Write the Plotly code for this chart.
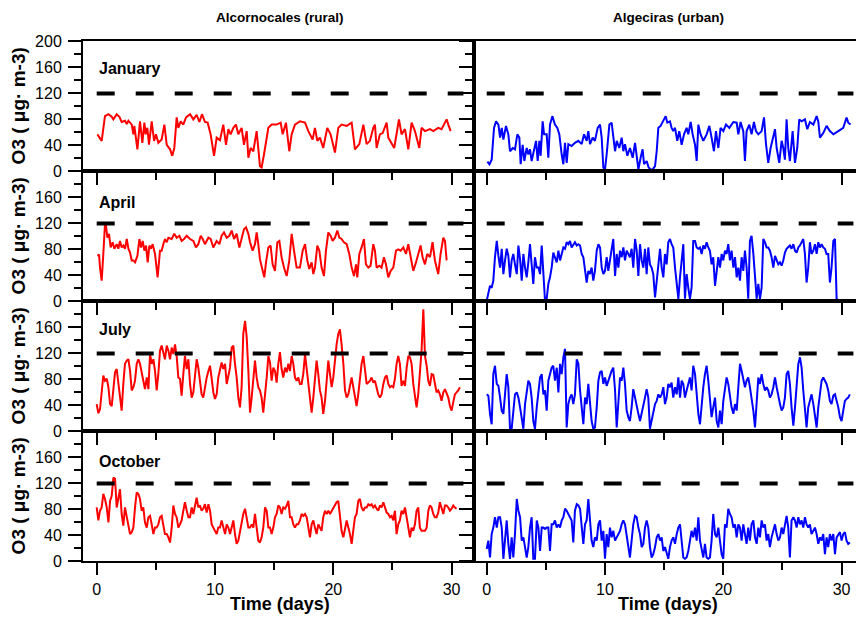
import plotly.graph_objects as go

# ---------------- data (O3, ug m-3) ----------------
LIMIT = 120
LIMIT_SPAN = [0, 31]

# regular sampling grid (days) used by the densely read series
SAMPLE_DAYS = [0.00,0.14,0.28,0.42,0.56,0.70,0.85,0.99,1.13,1.27,
1.41,1.55,1.69,1.83,1.97,2.11,2.25,2.39,2.54,2.68,
2.82,2.96,3.10,3.24,3.38,3.52,3.66,3.80,3.94,4.08,
4.23,4.37,4.51,4.65,4.79,4.93,5.07,5.21,5.35,5.49,
5.63,5.77,5.92,6.06,6.20,6.34,6.48,6.62,6.76,6.90,
7.04,7.18,7.32,7.46,7.61,7.75,7.89,8.03,8.17,8.31,
8.45,8.59,8.73,8.87,9.01,9.15,9.30,9.44,9.58,9.72,
9.86,10.00,10.14,10.28,10.42,10.56,10.70,10.85,10.99,11.13,
11.27,11.41,11.55,11.69,11.83,11.97,12.11,12.25,12.39,12.54,
12.68,12.82,12.96,13.10,13.24,13.38,13.52,13.66,13.80,13.94,
14.08,14.23,14.37,14.51,14.65,14.79,14.93,15.07,15.21,15.35,
15.49,15.63,15.77,15.92,16.06,16.20,16.34,16.48,16.62,16.76,
16.90,17.04,17.18,17.32,17.46,17.61,17.75,17.89,18.03,18.17,
18.31,18.45,18.59,18.73,18.87,19.01,19.15,19.30,19.44,19.58,
19.72,19.86,20.00,20.14,20.28,20.42,20.56,20.70,20.85,20.99,
21.13,21.27,21.41,21.55,21.69,21.83,21.97,22.11,22.25,22.39,
22.54,22.68,22.82,22.96,23.10,23.24,23.38,23.52,23.66,23.80,
23.94,24.08,24.23,24.37,24.51,24.65,24.79,24.93,25.07,25.21,
25.35,25.49,25.63,25.77,25.92,26.06,26.20,26.34,26.48,26.62,
26.76,26.90,27.04,27.18,27.32,27.46,27.61,27.75,27.89,28.03,
28.17,28.31,28.45,28.59,28.73,28.87,29.01,29.15,29.30,29.44,
29.58,29.72,29.86,30.00,30.14,30.28,30.42,30.56,30.70,30.85]

JAN_RURAL_DAYS = [0.06,0.42,0.70,0.99,1.27,1.41,1.69,1.92,2.11,2.39,
2.54,2.68,2.96,3.10,3.18,3.44,3.66,3.86,4.03,4.14,
4.28,4.42,4.65,4.85,5.01,5.21,5.49,5.72,5.92,6.20,
6.39,6.56,6.76,6.90,7.10,7.32,7.55,7.89,8.17,8.45,
8.68,8.90,9.15,9.38,9.63,9.92,10.14,10.42,10.70,10.93,
11.13,11.32,11.55,11.77,11.97,12.25,12.45,12.68,12.82,13.01,
13.24,13.52,13.80,13.94,14.14,14.25,14.51,14.79,15.21,15.55,
15.72,16.00,16.28,16.48,16.76,17.18,17.61,17.89,18.25,18.45,
18.65,18.87,19.15,19.49,19.77,20.14,20.42,20.70,21.13,21.55,
21.69,21.83,22.20,22.54,22.82,23.10,23.38,23.52,23.66,23.94,
24.17,24.51,24.65,24.93,25.15,25.55,25.77,26.06,26.34,26.62,
26.90,27.27,27.46,27.75,28.17,28.45,28.87,29.15,29.58,29.72,
29.92]
JAN_RURAL_O3 = [57,47,85,88,84,80,88,84,76,78,
73,78,72,57,70,34,77,44,75,57,
67,41,77,47,57,44,49,72,41,34,
24,36,83,67,77,72,83,88,80,87,
76,88,76,75,57,24,52,48,72,41,
65,57,67,72,57,67,41,62,21,36,
31,62,8,6,26,39,67,72,72,75,
57,75,31,57,72,77,75,62,49,67,
47,52,36,67,57,29,67,72,70,75,
57,34,42,72,42,47,67,72,36,57,
59,75,52,42,36,80,57,65,34,75,
62,36,67,62,65,62,67,65,80,72,
62]

JAN_URBAN_DAYS = [0.06,0.23,0.42,0.62,0.79,0.99,1.13,1.27,1.41,1.63,
1.83,1.97,2.20,2.39,2.59,2.76,2.87,3.04,3.18,3.38,
3.52,3.66,3.80,4.00,4.17,4.31,4.45,4.56,4.73,4.85,
5.07,5.21,5.35,5.55,5.77,5.97,6.14,6.34,6.48,6.62,
6.76,6.90,7.18,7.46,7.75,8.03,8.23,8.45,8.59,8.73,
8.96,9.15,9.38,9.58,9.72,9.86,10.00,10.14,10.37,10.56,
10.70,10.85,10.99,11.21,11.41,11.55,11.69,11.89,12.11,12.34,
12.54,12.68,12.82,13.01,13.18,13.30,13.52,13.69,13.86,14.03,
14.23,14.37,14.51,14.70,14.93,15.13,15.27,15.49,15.63,15.77,
15.92,16.11,16.28,16.48,16.68,16.90,17.04,17.24,17.41,17.61,
17.75,17.89,18.08,18.31,18.59,18.82,19.01,19.21,19.38,19.58,
19.77,20.00,20.23,20.51,20.85,21.13,21.27,21.46,21.69,21.83,
21.97,22.20,22.39,22.59,22.76,22.96,23.24,23.44,23.61,23.80,
24.00,24.23,24.37,24.51,24.73,24.93,25.07,25.21,25.35,25.49,
25.63,25.86,26.06,26.25,26.42,26.62,26.90,27.10,27.32,27.61,
27.89,28.03,28.17,28.45,28.73,29.01,29.30,29.72,30.14,30.42,
30.56,30.76]
JAN_URBAN_O3 = [15,11,18,67,77,72,52,67,49,70,
57,31,36,34,57,52,11,41,16,36,
26,34,16,36,47,16,47,24,77,57,
57,21,72,85,72,67,57,26,11,44,
13,42,39,44,47,42,57,47,62,42,
52,47,67,72,52,6,3,26,72,75,
57,31,47,36,52,31,42,24,36,21,
44,21,3,21,34,11,16,6,3,3,
8,31,67,70,77,85,75,77,67,62,
67,47,62,41,57,67,57,76,57,41,
16,72,57,47,57,70,52,31,62,36,
67,62,72,67,76,75,57,76,62,16,
62,72,57,76,62,57,62,83,42,13,
36,57,65,36,13,47,36,18,80,36,
16,62,13,36,80,77,80,65,76,72,
85,77,52,59,70,62,57,62,67,83,
75,72]

APR_RURAL_DAYS = [0.06,0.20,0.28,0.42,0.56,0.70,0.79,0.90,1.04,1.18,
1.35,1.49,1.69,1.83,1.97,2.11,2.25,2.39,2.54,2.68,
2.82,2.96,3.10,3.24,3.44,3.61,3.75,3.89,4.03,4.17,
4.31,4.45,4.59,4.73,4.93,5.15,5.35,5.49,5.63,5.77,
5.92,6.06,6.34,6.56,6.76,6.99,7.18,7.38,7.61,7.89,
8.17,8.39,8.59,8.79,8.96,9.15,9.44,9.63,9.86,10.14,
10.37,10.56,10.76,10.99,11.21,11.41,11.61,11.83,12.06,12.25,
12.45,12.62,12.82,12.96,13.18,13.38,13.52,13.66,13.80,14.03,
14.17,14.31,14.51,14.70,14.87,15.07,15.27,15.44,15.63,15.83,
16.06,16.28,16.48,16.68,16.90,17.18,17.41,17.61,17.80,17.97,
18.17,18.31,18.45,18.65,18.82,19.01,19.21,19.38,19.58,19.77,
19.94,20.14,20.34,20.51,20.70,20.90,21.13,21.35,21.55,21.75,
21.92,22.03,22.20,22.39,22.59,22.76,22.96,23.15,23.38,23.52,
23.66,23.89,24.08,24.28,24.45,24.65,24.85,25.07,25.30,25.49,
25.69,25.92,26.14,26.34,26.54,26.76,26.99,27.18,27.38,27.55,
27.75,27.94,28.17,28.39,28.59,28.87,29.07,29.30,29.44,29.58]
APR_RURAL_O3 = [70,72,52,32,73,119,116,98,104,83,
91,81,88,81,93,83,86,81,96,81,
75,63,63,60,70,96,83,93,78,86,
60,86,81,88,73,37,78,78,88,96,
91,98,96,104,98,101,93,96,101,96,
93,83,88,101,96,88,98,96,83,93,
88,101,106,98,101,109,96,104,83,96,
111,114,104,91,78,88,106,88,65,47,
37,60,83,86,57,47,91,93,68,52,
39,63,104,78,52,52,78,88,63,50,
60,42,52,86,78,52,39,78,106,101,
93,98,109,98,96,91,88,73,52,39,
57,37,73,83,96,57,52,55,88,78,
52,55,52,68,57,37,47,52,78,80,
78,83,73,88,70,47,60,73,86,68,
57,73,68,91,63,42,73,98,93,63]

APR_URBAN_O3 = [1,14,24,21,32,68,93,70,52,81,
42,63,81,70,37,63,73,57,42,86,
65,32,73,52,37,60,88,57,27,68,
52,52,42,86,40,1,4,27,37,52,
75,68,60,78,63,73,83,81,91,88,
93,83,88,91,86,88,86,73,68,52,
29,47,42,52,32,47,78,88,83,52,
42,47,68,47,63,78,96,39,73,52,
78,68,83,63,78,73,68,81,52,96,
78,39,88,63,52,81,42,83,57,52,
42,6,29,57,81,52,37,73,57,91,
96,88,83,52,27,4,37,63,88,4,
42,21,4,21,93,93,83,81,83,73,
86,81,91,83,78,57,68,24,52,68,
52,73,63,78,73,88,63,78,52,68,
37,52,32,68,47,78,52,4,93,101,
73,32,4,27,4,21,96,91,83,83,
78,68,52,70,63,57,60,55,63,75,
81,83,86,81,88,78,75,83,86,91,
96,73,29,52,91,73,78,88,73,91,
83,88,83,81,73,73,29,52,93,96,
4,1]

JUL_RURAL_O3 = [42,28,34,63,86,78,81,68,42,39,
63,91,96,73,57,32,73,104,109,111,
93,63,68,78,104,111,104,88,78,65,
83,65,119,104,111,93,63,88,124,132,
122,111,132,124,111,129,119,134,116,83,
81,55,88,116,96,111,73,52,60,88,
111,98,78,57,52,68,83,93,101,81,
60,50,57,83,93,106,96,104,73,86,
98,129,132,104,83,52,37,68,150,170,
145,93,29,52,83,109,83,68,63,52,
29,52,83,116,106,78,98,93,75,104,
122,96,83,98,91,104,93,116,104,83,
78,83,73,73,88,119,98,70,47,29,
52,83,109,88,63,52,27,47,83,109,
88,68,83,116,134,150,157,134,104,63,
52,57,73,83,68,52,39,57,83,104,
116,98,73,75,78,83,75,78,68,57,
52,57,73,83,86,73,68,70,68,81,
104,116,104,70,78,70,98,116,114,104,
73,52,37,57,93,124,188,116,101,78,
70,88,87,70,60,63,57,47,60,65,
57,52,39,32,45,57,60,63,68]

JUL_URBAN_O3 = [57,55,27,11,88,101,73,70,52,32,
27,52,88,68,4,4,37,57,60,52,
37,16,4,42,63,78,73,52,16,4,
37,63,83,88,57,63,32,78,88,98,
101,78,98,60,104,88,114,127,6,42,
52,57,42,57,111,104,63,32,11,52,
42,73,37,16,4,6,37,78,91,93,
73,83,70,78,88,93,98,63,6,42,
83,78,98,73,32,22,16,37,65,52,
37,27,16,27,37,52,65,52,4,16,
32,42,47,57,52,57,68,42,52,73,
68,75,52,68,57,83,52,78,73,52,
63,73,83,63,101,88,52,27,11,42,
68,88,101,78,52,22,37,52,16,6,
32,11,47,63,83,73,52,37,27,42,
32,68,104,93,78,68,78,83,68,52,
32,6,52,83,73,88,73,63,68,63,
52,57,68,83,68,52,42,32,37,52,
88,93,73,37,9,37,68,104,114,98,
63,27,6,37,47,57,42,22,6,37,
57,78,83,78,73,63,47,42,55,57,
47,37,22,16,32,47,50,52,57]

OCT_RURAL_O3 = [83,63,78,83,104,96,83,60,93,101,
129,127,83,98,111,73,55,83,68,57,
42,45,52,83,106,104,96,78,83,60,
52,68,70,57,42,52,52,57,68,70,
57,42,42,37,29,52,86,73,68,52,
57,63,78,91,78,68,68,83,73,88,
98,83,86,78,81,88,75,88,78,57,
52,47,42,52,52,63,52,42,57,52,
42,52,63,42,27,32,47,57,73,81,
68,52,52,57,52,73,52,32,29,37,
52,83,78,52,52,42,52,68,73,86,
83,73,83,81,86,93,68,68,57,52,
57,57,63,73,70,73,68,52,37,57,
63,52,42,57,52,47,68,78,73,78,
73,78,83,86,91,93,73,47,37,52,
63,52,42,27,52,68,73,93,96,83,
78,83,83,88,86,88,83,86,81,78,
86,83,91,83,75,73,68,70,63,78,
42,57,63,78,73,83,68,52,37,52,
47,57,78,83,52,47,47,47,52,78,
86,83,73,68,68,75,91,83,73,86,
86,83,78,81,86,83,81]

OCT_URBAN_O3 = [19,32,6,42,52,68,52,68,68,52,
4,37,63,27,4,37,6,42,96,78,
68,32,37,22,6,22,52,68,4,4,
63,52,16,52,52,50,52,52,16,57,
57,63,52,57,52,63,68,81,78,73,
68,63,29,78,88,86,81,52,27,57,
63,96,57,32,22,37,32,57,63,32,
47,4,42,22,52,37,47,32,37,42,
47,57,63,57,42,22,6,32,57,70,
68,52,42,22,27,52,63,52,22,6,
11,22,37,42,32,37,16,22,11,4,
22,32,37,27,42,52,57,32,6,4,
6,16,32,47,37,52,32,68,32,16,
6,27,6,4,6,32,73,42,37,52,
32,11,4,57,52,81,73,68,52,57,
37,57,52,32,57,42,27,52,32,57,
63,37,27,52,37,63,52,57,32,42,
22,37,47,57,42,32,37,52,42,57,
70,52,6,63,68,63,52,68,57,63,
52,68,57,52,57,42,47,52,42,27,
37,32,42,11,37,22,42,32,42,11,
37,42,45,32,42,45,32,27,29]

MONTHS = ["January", "April", "July", "October"]
SITES = ["Alcornocales (rural)", "Algeciras (urban)"]
SITE_COLORS = ["#ff0000", "#0000ff"]

SERIES = [
    [(JAN_RURAL_DAYS, JAN_RURAL_O3), (JAN_URBAN_DAYS, JAN_URBAN_O3)],
    [(APR_RURAL_DAYS, APR_RURAL_O3), (SAMPLE_DAYS[:len(APR_URBAN_O3)], APR_URBAN_O3)],
    [(SAMPLE_DAYS[:len(JUL_RURAL_O3)], JUL_RURAL_O3), (SAMPLE_DAYS[:len(JUL_URBAN_O3)], JUL_URBAN_O3)],
    [(SAMPLE_DAYS[:len(OCT_RURAL_O3)], OCT_RURAL_O3), (SAMPLE_DAYS[:len(OCT_URBAN_O3)], OCT_URBAN_O3)],
]

Y_TICKS = [0, 40, 80, 120, 160, 200]
Y_MINOR = [20, 60, 100, 140, 180]
X_TICKS = [0, 10, 20, 30]
X_MINOR = [5, 15, 25]

# ---------------- layout geometry ----------------
W, H = 856, 625
# measured placement of the plotting paper inside the rendered picture
PAPER_X0, PAPER_X1 = 0.0, 856.0
PAPER_Y0, PAPER_Y1 = 8.6, 616.6


def fx(px):
    """target screen x pixel -> paper fraction"""
    return min(1.0, max(0.0, (px - PAPER_X0) / (PAPER_X1 - PAPER_X0)))


def fy(py):
    """target screen y pixel -> paper fraction"""
    return min(1.0, max(0.0, 1 - (py - PAPER_Y0) / (PAPER_Y1 - PAPER_Y0)))


PX_PER_DAY = 11.83
COL_PX = [(83, 474), (474, 856)]
ZERO_PX = [96.7, 486.7]
ROW_PX = [(42, 172), (172, 302), (302, 432), (432, 562)]
MONTH_Y = [158, 152, 156, 154]

FONT = "Liberation Sans, Arial, sans-serif"

fig = go.Figure()
layout = dict(
    width=W, height=H,
    margin=dict(l=0, r=0, t=0, b=0),
    paper_bgcolor="white", plot_bgcolor="white",
    showlegend=False,
    font=dict(family=FONT, color="black", size=16),
)
annotations = []

for r in range(4):
    for c in range(2):
        idx = r * 2 + c + 1
        xs = "" if idx == 1 else str(idx)
        x0d, x1d = fx(COL_PX[c][0]), fx(COL_PX[c][1])
        left_px = PAPER_X0 + x0d * (PAPER_X1 - PAPER_X0)
        right_px = PAPER_X0 + x1d * (PAPER_X1 - PAPER_X0)
        xr = [(left_px - ZERO_PX[c]) / PX_PER_DAY, (right_px - ZERO_PX[c]) / PX_PER_DAY]
        yd = [fy(ROW_PX[r][1]), fy(ROW_PX[r][0])]
        layout["xaxis" + xs] = dict(
            domain=[x0d, x1d], range=xr, anchor="y" + xs,
            showline=True, linecolor="black", linewidth=2, mirror=True,
            ticks="outside", ticklen=12, tickwidth=2, tickcolor="black",
            tickmode="array", tickvals=X_TICKS,
            showticklabels=(r == 3), ticklabelstandoff=0,
            tickfont=dict(size=16, family=FONT, color="black"),
            minor=dict(tickmode="array", tickvals=X_MINOR, ticks="outside",
                       ticklen=7, tickwidth=2, tickcolor="black", showgrid=False),
            showgrid=False, zeroline=False, fixedrange=True,
        )
        ticktext = [str(v) for v in Y_TICKS]
        if r > 0:
            ticktext[-1] = ""
        layout["yaxis" + xs] = dict(
            domain=yd, range=[0, 200], anchor="x" + xs,
            showline=True, linecolor="black", linewidth=2, mirror=(c == 0),
            ticks="outside", ticklen=13, tickwidth=2, tickcolor="black",
            tickmode="array", tickvals=Y_TICKS, ticktext=ticktext,
            showticklabels=(c == 0), ticklabelstandoff=3,
            tickfont=dict(size=16, family=FONT, color="black"),
            minor=dict(tickmode="array", tickvals=Y_MINOR, ticks="outside",
                       ticklen=7, tickwidth=2, tickcolor="black", showgrid=False),
            showgrid=False, zeroline=False, fixedrange=True,
        )
        days, vals = SERIES[r][c]
        fig.add_trace(go.Scatter(
            x=days, y=vals, mode="lines",
            line=dict(color=SITE_COLORS[c], width=2),
            xaxis="x" + xs, yaxis="y" + xs, hoverinfo="skip",
        ))
        fig.add_trace(go.Scatter(
            x=LIMIT_SPAN, y=[LIMIT, LIMIT], mode="lines",
            line=dict(color="black", width=4, dash="18px,21px"),
            xaxis="x" + xs, yaxis="y" + xs, hoverinfo="skip",
        ))
        if c == 0:
            annotations.append(dict(
                text="<b>%s</b>" % MONTHS[r], x=0, y=MONTH_Y[r],
                xref="x" + xs, yref="y" + xs, xanchor="left", yanchor="middle",
                showarrow=False, font=dict(size=16, family=FONT, color="black"),
            ))
    # y-axis title per row
    annotations.append(dict(
        text="<b>O3 ( μg· m-3)</b>", textangle=-90,
        x=fx(18), y=fy((ROW_PX[r][0] + ROW_PX[r][1]) / 2),
        xref="paper", yref="paper", xanchor="center", yanchor="middle",
        showarrow=False, font=dict(size=19, family=FONT, color="black"),
    ))

TITLE_CX = [280, 668]
for c in range(2):
    annotations.append(dict(
        text="<b>%s</b>" % SITES[c], x=fx(TITLE_CX[c]), y=fy(18),
        xref="paper", yref="paper", xanchor="center", yanchor="middle",
        showarrow=False, font=dict(size=13.5, family=FONT, color="black"),
    ))
    annotations.append(dict(
        text="<b>Time (days)</b>", x=fx(TITLE_CX[c]), y=fy(605),
        xref="paper", yref="paper", xanchor="center", yanchor="middle",
        showarrow=False, font=dict(size=18, family=FONT, color="black"),
    ))

layout["annotations"] = annotations
fig.update_layout(**layout)
fig.write_html("out.html", config={"displayModeBar": False})
